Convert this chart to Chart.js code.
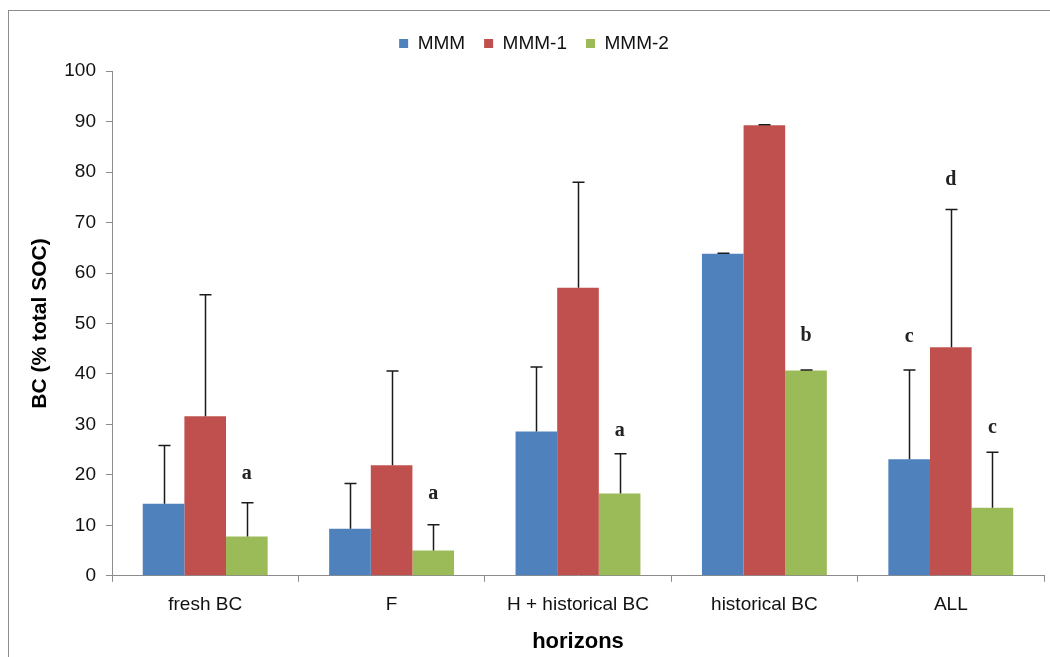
<!DOCTYPE html>
<html>
<head>
<meta charset="utf-8">
<script src="https://cdn.jsdelivr.net/npm/chart.js@4.4.0/dist/chart.umd.min.js"></script>
<style>
  body { margin: 0; background: #fff; }
  #wrap { width: 1050px; height: 657px; }
</style>
</head>
<body>
<div id="wrap"><canvas id="bcChart" width="1050" height="657"></canvas></div>
<script>
// Datos del gráfico
const horizons = ['fresh BC', 'F', 'H + historical BC', 'historical BC', 'ALL'];
const seriesNames = ['MMM', 'MMM-1', 'MMM-2'];
const mmm  = [14.3, 9.3, 28.6, 63.8, 23.1];
const mmm1 = [31.6, 21.9, 57.1, 89.3, 45.3];
const mmm2 = [7.8, 5.0, 16.3, 40.7, 13.5];
// extremo superior de las barras de error
const mmmErr  = [25.8, 18.3, 41.4, 63.9, 40.8];
const mmm1Err = [55.7, 40.6, 78.0, 89.4, 72.6];
const mmm2Err = [14.5, 10.1, 24.2, 40.8, 24.5];
// letras de significancia: categoría, serie, valor y
const letterText   = ['a', 'a', 'a', 'b', 'c', 'd', 'c'];
const letterCat    = [0, 1, 2, 3, 4, 4, 4];
const letterSeries = [2, 2, 2, 2, 0, 1, 2];
const letterY      = [20.3, 16.3, 28.7, 47.5, 47.3, 78.5, 29.4];
const yTicks = [0, 10, 20, 30, 40, 50, 60, 70, 80, 90, 100];

const colors = ['#4F81BD', '#C0504D', '#9BBB59'];
const errTops = [mmmErr, mmm1Err, mmm2Err];

// Barras de error (solo hacia arriba) y letras
const errorBarsPlugin = {
    id: 'errorBars',
    afterDatasetsDraw(chart) {
        const ctx = chart.ctx;
        const yScale = chart.scales.y;
        ctx.save();
        ctx.strokeStyle = '#1a1a1a';
        ctx.lineWidth = 1.5;
        chart.data.datasets.forEach((ds, i) => {
            const meta = chart.getDatasetMeta(i);
            meta.data.forEach((bar, j) => {
                const x = Math.round(bar.x) + 0.5;
                const yTop = yScale.getPixelForValue(errTops[i][j]);
                ctx.beginPath();
                ctx.moveTo(x, bar.y);
                ctx.lineTo(x, yTop);
                ctx.moveTo(x - 6, yTop);
                ctx.lineTo(x + 6, yTop);
                ctx.stroke();
            });
        });
        ctx.fillStyle = '#222';
        ctx.font = 'bold 20px "Liberation Serif", serif';
        ctx.textAlign = 'center';
        ctx.textBaseline = 'middle';
        letterText.forEach((t, k) => {
            const bar = chart.getDatasetMeta(letterSeries[k]).data[letterCat[k]];
            ctx.fillText(t, bar.x, yScale.getPixelForValue(letterY[k]));
        });
        ctx.restore();
    }
};

// Marco exterior
const framePlugin = {
    id: 'frame',
    beforeDraw(chart) {
        const ctx = chart.ctx;
        ctx.save();
        ctx.fillStyle = '#fff';
        ctx.fillRect(0, 0, chart.width, chart.height);
        ctx.strokeStyle = '#8c8c8c';
        ctx.lineWidth = 1;
        ctx.strokeRect(8.5, 10.5, 1200, 800);
        ctx.restore();
    }
};

const datasets = [mmm, mmm1, mmm2].map((vals, i) => ({
    label: seriesNames[i],
    data: vals,
    backgroundColor: colors[i],
    borderWidth: 0,
    barPercentage: 1.0,
    categoryPercentage: 0.67
}));

new Chart(document.getElementById('bcChart'), {
    type: 'bar',
    data: { labels: horizons, datasets: datasets },
    plugins: [framePlugin, errorBarsPlugin],
    options: {
        responsive: false,
        animation: false,
        layout: { padding: { top: 15, left: 24, right: 6, bottom: 2 } },
        plugins: {
            tooltip: { enabled: false },
            legend: {
                position: 'top',
                labels: {
                    boxWidth: 9,
                    boxHeight: 9,
                    padding: 19,
                    color: '#111',
                    font: { family: 'Arial, "Liberation Sans", sans-serif', size: 19 }
                }
            },
            // espacio vacío entre la leyenda y el gráfico
            subtitle: {
                display: true,
                text: ' ',
                weight: 500,
                padding: { top: 4, bottom: 3 },
                font: { size: 1 }
            }
        },
        scales: {
            x: {
                grid: { drawOnChartArea: false, drawTicks: true, tickLength: 6, color: '#8c8c8c', offset: true },
                border: { color: '#8c8c8c', width: 1 },
                ticks: {
                    color: '#111',
                    padding: 12,
                    maxRotation: 0,
                    font: { family: 'Arial, "Liberation Sans", sans-serif', size: 19 }
                },
                title: {
                    display: true,
                    text: 'horizons',
                    color: '#000',
                    padding: { top: 0, bottom: 0 },
                    font: { family: 'Arial, "Liberation Sans", sans-serif', size: 22, weight: 'bold' }
                }
            },
            y: {
                min: 0,
                max: 100,
                afterBuildTicks(scale) {
                    scale.ticks = yTicks.map(v => ({ value: v }));
                },
                afterFit(scale) { scale.width = 88; },
                grid: { drawOnChartArea: false, drawTicks: true, tickLength: 6, color: '#8c8c8c' },
                border: { color: '#8c8c8c', width: 1 },
                ticks: {
                    color: '#111',
                    padding: 10,
                    font: { family: 'Arial, "Liberation Sans", sans-serif', size: 19 }
                },
                title: {
                    display: true,
                    text: 'BC (% total SOC)',
                    color: '#000',
                    font: { family: 'Arial, "Liberation Sans", sans-serif', size: 21, weight: 'bold' }
                }
            }
        }
    }
});
</script>
</body>
</html>
